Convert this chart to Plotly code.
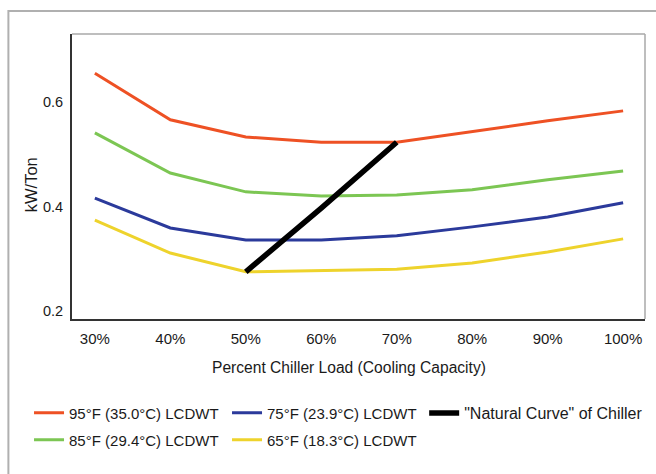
import plotly.graph_objects as go

loads = [30, 40, 50, 60, 70, 80, 90, 100]
tick_labels = ["30%", "40%", "50%", "60%", "70%", "80%", "90%", "100%"]
kw_95 = [0.655, 0.566, 0.533, 0.523, 0.523, 0.544, 0.564, 0.583]
kw_85 = [0.541, 0.464, 0.428, 0.420, 0.422, 0.432, 0.451, 0.468]
kw_75 = [0.416, 0.359, 0.336, 0.336, 0.344, 0.361, 0.380, 0.407]
kw_65 = [0.374, 0.311, 0.275, 0.278, 0.280, 0.292, 0.313, 0.338]
natural_x = [50, 60, 70]
natural_y = [0.275, 0.397, 0.523]

names = ["95°F (35.0°C) LCDWT", "85°F (29.4°C) LCDWT",
         "75°F (23.9°C) LCDWT", "65°F (18.3°C) LCDWT"]
colors = ["#ee5124", "#7cc653", "#2b3a9b", "#eed32c"]
ranks = [1, 1, 2, 2]
legends = ["legend", "legend2", "legend", "legend2"]

fig = go.Figure()
for ys, nm, c, r, lg in zip([kw_95, kw_85, kw_75, kw_65], names, colors, ranks, legends):
    fig.add_trace(go.Scatter(x=loads, y=ys, mode="lines", name=nm,
                             line=dict(color=c, width=3), legendrank=r, legend=lg))
fig.add_trace(go.Scatter(x=natural_x, y=natural_y, mode="lines",
                         name='"Natural Curve" of Chiller',
                         line=dict(color="#000000", width=5.5),
                         legend="legend3"))

fam = "Liberation Sans, Arial, sans-serif"
txt = "#1a1a1a"
font = dict(family=fam, size=15, color=txt)
leg_common = dict(orientation="h", xanchor="left", yanchor="middle",
                  itemwidth=30, bgcolor="rgba(0,0,0,0)")

fig.update_layout(
    width=656, height=474,
    margin=dict(l=72, r=8, t=34, b=155),
    paper_bgcolor="white", plot_bgcolor="white",
    font=font,
    showlegend=True,
    legend=dict(x=-0.075, y=-0.3298, entrywidth=153, entrywidthmode="pixels",
                font=dict(family=fam, size=15, color=txt), **leg_common),
    legend2=dict(x=-0.075, y=-0.4246, entrywidth=153, entrywidthmode="pixels",
                 font=dict(family=fam, size=15, color=txt), **leg_common),
    legend3=dict(x=0.6146, y=-0.3298,
                 font=dict(family=fam, size=16, color=txt), **leg_common),
    xaxis=dict(range=[26.97, 102.9], tickvals=loads, ticktext=tick_labels,
               showgrid=False, zeroline=False, showline=True, linecolor="#333333",
               linewidth=2, ticks="", ticklabelstandoff=5,
               tickfont=dict(family=fam, size=15, color=txt)),
    yaxis=dict(range=[0.1847, 0.7301], tickvals=[0.2, 0.4, 0.6],
               ticktext=["0.2", "0.4", "0.6"],
               showgrid=False, zeroline=False, showline=True, linecolor="#333333",
               linewidth=2, ticks="", ticklabelstandoff=4,
               tickfont=dict(family=fam, size=14.5, color=txt)),
    annotations=[
        dict(text="kW/Ton", xref="paper", yref="paper", x=(31 - 72) / 576,
             y=(319 - 185) / 285, textangle=-90, showarrow=False,
             xanchor="center", yanchor="middle",
             font=dict(family=fam, size=16.5, color=txt)),
        dict(text="Percent Chiller Load (Cooling Capacity)", xref="paper", yref="paper",
             x=(350 - 72) / 576, y=(319 - 367) / 285, showarrow=False,
             xanchor="center", yanchor="middle",
             font=dict(family=fam, size=15.6, color=txt)),
    ],
    shapes=[
        dict(type="line", xref="paper", yref="paper", x0=0, x1=1, y0=1, y1=1,
             line=dict(color="#a8a8a8", width=1.5)),
        dict(type="line", xref="paper", yref="paper", x0=1, x1=1, y0=0, y1=1,
             line=dict(color="#a8a8a8", width=1.5)),
        dict(type="rect", xref="paper", yref="paper", x0=-0.111, x1=1.2,
             y0=-0.9, y1=1.0807, line=dict(color="#b0b0b0", width=2),
             fillcolor="rgba(0,0,0,0)", layer="below"),
    ],
)

fig.write_html("out.html", config={"displayModeBar": False},
               post_script="document.body.style.margin='0';")
